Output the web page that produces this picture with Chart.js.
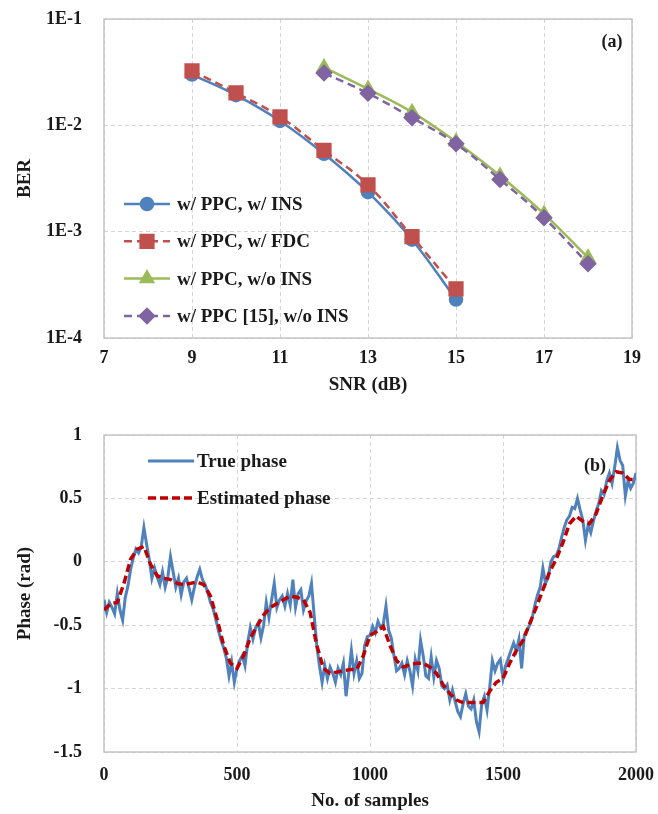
<!DOCTYPE html>
<html>
<head>
<meta charset="utf-8">
<title>BER and phase tracking</title>
<script src="https://cdn.jsdelivr.net/npm/chart.js@4.4.1/dist/chart.umd.min.js"></script>
<style>
  html, body { margin: 0; padding: 0; background: #fff; }
  #wrap { position: relative; width: 658px; height: 814px; }
  canvas { position: absolute; left: 0; }
  #berChart { top: 0; }
  #phaseChart { top: 410px; }
</style>
</head>
<body>
<div id="wrap">
  <canvas id="berChart" width="658" height="410"></canvas>
  <canvas id="phaseChart" width="658" height="404"></canvas>
</div>
<script>
// ── Shared look ─────────────────────────────────────────────────────────────
const FONT  = "'Liberation Serif', 'Times New Roman', serif";
const INK   = "#1a1a1a";
const GRID  = "#d4d4d4";
const FRAME = "#c4c4c4";
const CLEAR = "rgba(0,0,0,0)";

// ── (a) BER vs SNR ──────────────────────────────────────────────────────────
const SNR_LOW  = [9, 10, 11, 12, 13, 14, 15];
const SNR_HIGH = [12, 13, 14, 15, 16, 17, 18];
const BER_PPC_INS   = [3.0e-2, 1.92e-2, 1.1e-2, 5.4e-3, 2.35e-3, 8.4e-4, 2.3e-4];
const BER_PPC_FDC   = [3.25e-2, 2.02e-2, 1.2e-2, 5.8e-3, 2.75e-3, 9.0e-4, 2.9e-4];
const BER_PPC_NOINS = [3.5e-2, 2.2e-2, 1.33e-2, 7.0e-3, 3.35e-3, 1.47e-3, 5.7e-4];
const BER_REF_NOINS = [3.1e-2, 2.0e-2, 1.18e-2, 6.7e-3, 3.1e-3, 1.35e-3, 5.0e-4];
const SNR_TICKS = [7, 9, 11, 13, 15, 17, 19];
const BER_TICKS = [1e-4, 1e-3, 1e-2, 1e-1];
const BER_TICK_LABELS = ["1E-4", "1E-3", "1E-2", "1E-1"];
const SERIES_A = ["w/ PPC, w/ INS", "w/ PPC, w/ FDC", "w/ PPC, w/o INS", "w/ PPC [15], w/o INS"];

// ── (b) phase tracking ──────────────────────────────────────────────────────
const SAMPLE_MAX = 2000;
const TRUE_STEP  = 10;   // true phase read every 10 samples
const EST_STEP   = 25;   // estimated phase read every 25 samples
const TRUE_PHASE = [
  -0.30, -0.40, -0.32, -0.36, -0.41, -0.25, -0.38, -0.46, -0.28, -0.19,
  -0.06,  0.03,  0.10,  0.07,  0.12,  0.27,  0.14,  0.02, -0.13, -0.05,
  -0.12, -0.18, -0.08, -0.20, -0.12,  0.04, -0.08, -0.20, -0.13, -0.26,
  -0.16, -0.13, -0.21, -0.30, -0.20, -0.12, -0.06, -0.14, -0.18, -0.24,
  -0.32, -0.37, -0.45, -0.54, -0.62, -0.68, -0.76, -0.90, -0.79, -0.95,
  -0.84, -0.78, -0.74, -0.82, -0.64, -0.52, -0.61, -0.52, -0.48, -0.60,
  -0.50, -0.32, -0.44, -0.30, -0.17, -0.36, -0.30, -0.27, -0.35, -0.25,
  -0.34, -0.14, -0.36, -0.25, -0.22, -0.38, -0.31, -0.27, -0.17, -0.42,
  -0.66, -0.82, -0.95, -0.82, -0.92, -0.83, -0.88, -0.95, -0.84, -0.89,
  -0.80, -1.06, -0.88, -0.70, -0.88, -0.78, -0.92, -0.88, -0.66, -0.59,
  -0.58, -0.51, -0.56, -0.47, -0.52, -0.49, -0.35, -0.54, -0.60, -0.74,
  -0.86, -0.84, -0.80, -0.89, -0.78, -0.86, -0.98, -0.77, -0.86, -0.62,
  -0.74, -0.90, -0.92, -0.75, -0.91, -0.78, -0.84, -0.98, -1.00, -0.97,
  -1.09, -1.01, -1.10, -1.18, -1.22, -1.12, -1.04, -1.14, -1.16, -1.09,
  -1.26, -1.34, -1.12, -1.06, -1.17, -0.99, -0.78, -0.86, -0.80, -0.77,
  -0.92, -0.82, -0.76, -0.70, -0.64, -0.70, -0.61, -0.84, -0.58, -0.54,
  -0.50, -0.44, -0.34, -0.26, -0.20, -0.05, -0.17, -0.12,  0.00,  0.04,
   0.05,  0.10,  0.19,  0.27,  0.33,  0.36,  0.43,  0.42,  0.50,  0.41,
   0.33,  0.17,  0.29,  0.23,  0.32,  0.40,  0.46,  0.56,  0.53,  0.64,
   0.70,  0.62,  0.75,  0.90,  0.80,  0.76,  0.52,  0.64,  0.58,  0.62,
   0.70,
];
const EST_PHASE = [
  -0.38, -0.33, -0.32, -0.17,  0.02,  0.10,  0.12, -0.02,
  -0.11, -0.13, -0.14, -0.17, -0.18, -0.17, -0.16, -0.18,
  -0.27, -0.45, -0.66, -0.80, -0.84, -0.74, -0.60, -0.51,
  -0.42, -0.36, -0.33, -0.30, -0.27, -0.28, -0.30, -0.40,
  -0.66, -0.84, -0.88, -0.87, -0.86, -0.85, -0.85, -0.74,
  -0.58, -0.55, -0.51, -0.66, -0.78, -0.83, -0.81, -0.80,
  -0.80, -0.83, -0.88, -0.97, -1.04, -1.09, -1.11, -1.11,
  -1.11, -1.11, -1.02, -0.95, -0.92, -0.80, -0.70, -0.62,
  -0.49, -0.36, -0.22, -0.08,  0.02,  0.15,  0.30,  0.36,
   0.32,  0.30,  0.38,  0.52,  0.64,  0.71,  0.70,  0.65,
   0.65,
];
const SAMPLE_TICKS = [0, 500, 1000, 1500, 2000];
const PHASE_TICKS  = [-1.5, -1, -0.5, 0, 0.5, 1];
const SERIES_B = ["True phase", "Estimated phase"];

// ── Plugins: plot frame, in-plot legend, panel tag ──────────────────────────
const frame = {
  id: "frame",
  beforeDatasetsDraw(chart) {
    const { ctx, chartArea: a } = chart;
    ctx.save();
    ctx.strokeStyle = FRAME;
    ctx.lineWidth = 1.5;
    ctx.strokeRect(a.left, a.top, a.width, a.height);
    ctx.restore();
  },
};

const boxLegend = {
  id: "boxLegend",
  afterDatasetsDraw(chart, args, opts) {
    const { ctx, chartArea: a } = chart;
    ctx.save();
    chart.data.datasets.forEach((ds, i) => {
      const y  = a.top + opts.y + i * opts.gap;
      const x0 = a.left + opts.x;
      ctx.strokeStyle = ds.borderColor;
      ctx.lineWidth = ds.borderWidth;
      ctx.setLineDash(ds.borderDash || []);
      ctx.beginPath();
      ctx.moveTo(x0, y);
      ctx.lineTo(x0 + opts.len, y);
      ctx.stroke();
      ctx.setLineDash([]);
      if (ds.pointRadius) {
        ctx.fillStyle = ds.pointBackgroundColor;
        ctx.strokeStyle = ds.pointBorderColor;
        Chart.helpers.drawPoint(ctx, {
          pointStyle: ds.pointStyle, radius: ds.pointRadius, borderWidth: 1, rotation: 0,
        }, x0 + opts.len / 2, y);
      }
      ctx.fillStyle = INK;
      ctx.font = `bold ${opts.size}px ${FONT}`;
      ctx.textAlign = "left";
      ctx.textBaseline = "middle";
      ctx.fillText(ds.label, x0 + opts.len + opts.textGap, y + 1);
    });
    ctx.restore();
  },
};

const panelTag = {
  id: "panelTag",
  afterDraw(chart, args, opts) {
    const { ctx, chartArea: a } = chart;
    ctx.save();
    ctx.fillStyle = INK;
    ctx.font = `bold 18px ${FONT}`;
    ctx.textAlign = "center";
    ctx.textBaseline = "middle";
    ctx.fillText(opts.text, a.right - opts.dx, a.top + opts.dy);
    ctx.restore();
  },
};

const tickFont  = { family: FONT, size: 18, weight: "bold" };
const titleFont = { family: FONT, size: 19, weight: "bold" };

// gap between axis and labels comes from an invisible tick mark, so it
// does not leak into the layout padding the way ticks.padding does
function gridWith(gap) {
  return { color: GRID, drawTicks: true, tickLength: gap, tickColor: CLEAR };
}

function pairs(xs, ys) {
  return xs.map((x, i) => ({ x, y: ys[i] }));
}

function sampled(step, ys) {
  return ys.map((y, i) => ({ x: i * step, y }));
}

// ── (a) chart ───────────────────────────────────────────────────────────────
function berSeries(label, xs, ys, color, style, radius, dash, order) {
  return {
    label,
    data: pairs(xs, ys),
    borderColor: color,
    backgroundColor: color,
    pointBackgroundColor: color,
    pointBorderColor: color,
    borderWidth: 2.5,
    borderDash: dash,
    pointStyle: style,
    pointRadius: radius,
    tension: 0.4,
    order,
  };
}

new Chart(document.getElementById("berChart"), {
  type: "line",
  data: {
    datasets: [
      berSeries(SERIES_A[0], SNR_LOW,  BER_PPC_INS,   "#4F81BD", "circle",   6, [],     4),
      berSeries(SERIES_A[1], SNR_LOW,  BER_PPC_FDC,   "#C0504D", "rect",     9, [8, 5], 3),
      berSeries(SERIES_A[2], SNR_HIGH, BER_PPC_NOINS, "#9BBB59", "triangle", 7, [],     2),
      berSeries(SERIES_A[3], SNR_HIGH, BER_REF_NOINS, "#8064A2", "rectRot",  7, [8, 5], 1),
    ],
  },
  options: {
    responsive: false,
    animation: false,
    layout: { padding: { top: 19, right: 26, left: 0, bottom: 0 } },
    plugins: {
      legend:  { display: false },
      tooltip: { enabled: false },
      boxLegend: { x: 20, y: 185, gap: 37.3, len: 46, textGap: 7, size: 19 },
      panelTag:  { text: "(a)", dx: 20, dy: 23 },
    },
    scales: {
      x: {
        type: "linear", min: 7, max: 19,
        afterBuildTicks: s => { s.ticks = SNR_TICKS.map(v => ({ value: v })); },
        afterFit: s => { s.height = 72; },
        grid: gridWith(10),
        border: { display: false, dash: [4, 3] },
        ticks: { color: INK, font: tickFont, padding: 0, maxRotation: 0, callback: v => String(v) },
        title: { display: true, text: "SNR (dB)", color: INK, font: titleFont, padding: { top: 0, bottom: 14 } },
      },
      y: {
        type: "logarithmic", min: 1e-4, max: 1e-1,
        afterBuildTicks: s => { s.ticks = BER_TICKS.map(v => ({ value: v })); },
        afterFit: s => { s.width = 104; },
        grid: gridWith(22),
        border: { display: false, dash: [4, 3] },
        ticks: { color: INK, font: tickFont, padding: 0, callback: (v, i) => BER_TICK_LABELS[i] },
        title: { display: true, text: "BER", color: INK, font: titleFont, padding: { top: 14, bottom: 0 } },
      },
    },
  },
  plugins: [frame, boxLegend, panelTag],
});

// ── (b) chart ───────────────────────────────────────────────────────────────
new Chart(document.getElementById("phaseChart"), {
  type: "line",
  data: {
    datasets: [
      {
        label: SERIES_B[0],
        data: sampled(TRUE_STEP, TRUE_PHASE),
        borderColor: "#4F81BD",
        borderWidth: 3,
        pointRadius: 0,
        tension: 0,
        order: 1,
      },
      {
        label: SERIES_B[1],
        data: sampled(EST_STEP, EST_PHASE),
        borderColor: "#C00000",
        borderWidth: 3.5,
        borderDash: [8, 4],
        pointRadius: 0,
        tension: 0,
        order: 0,
      },
    ],
  },
  options: {
    responsive: false,
    animation: false,
    layout: { padding: { top: 25, right: 22, left: 0, bottom: 0 } },
    plugins: {
      legend:  { display: false },
      tooltip: { enabled: false },
      boxLegend: { x: 44, y: 26, gap: 37, len: 46, textGap: 3, size: 19 },
      panelTag:  { text: "(b)", dx: 41, dy: 31 },
    },
    scales: {
      x: {
        type: "linear", min: 0, max: SAMPLE_MAX,
        afterBuildTicks: s => { s.ticks = SAMPLE_TICKS.map(v => ({ value: v })); },
        afterFit: s => { s.height = 62; },
        grid: gridWith(13),
        border: { display: false, dash: [4, 3] },
        ticks: { color: INK, font: tickFont, padding: 0, maxRotation: 0, callback: v => String(v) },
        title: { display: true, text: "No. of samples", color: INK, font: titleFont, padding: { top: 0, bottom: 2 } },
      },
      y: {
        type: "linear", min: -1.5, max: 1,
        afterBuildTicks: s => { s.ticks = PHASE_TICKS.map(v => ({ value: v })); },
        afterFit: s => { s.width = 104; },
        grid: gridWith(22),
        border: { display: false, dash: [4, 3] },
        ticks: { color: INK, font: tickFont, padding: 0, callback: v => String(v) },
        title: { display: true, text: "Phase (rad)", color: INK, font: titleFont, padding: { top: 14, bottom: 0 } },
      },
    },
  },
  plugins: [frame, boxLegend, panelTag],
});
</script>
</body>
</html>
